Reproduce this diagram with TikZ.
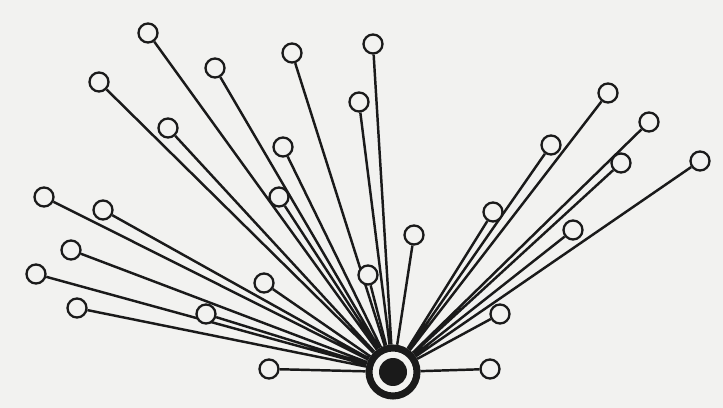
\documentclass[tikz,border=0pt]{standalone}
\definecolor{Paper}{HTML}{F2F2F0}
\definecolor{Ink}{HTML}{1A1A1A}
\usepackage{tikz}
\usetikzlibrary{backgrounds}

\begin{document}
\begin{tikzpicture}[x=0.02cm, y=-0.02cm,
      leaf/.style={circle, draw=Ink, fill=Paper, line width=1.3pt,
        minimum size=0.38cm, inner sep=0pt},
      hub/.style={circle, draw=Ink, fill=Paper, line width=4pt,
        minimum size=0.96cm, inner sep=0pt},
      core/.style={circle, fill=Ink, minimum size=0.56cm, inner sep=0pt},
      link/.style={draw=Ink, line width=1.4pt}]
      \useasboundingbox (0,0) rectangle (723,408);
      % centre
      \node[hub] (c) at (393,372) {};
      \node[core] (k) at (c) {};
      % upper left fan
      \node[leaf] (a1) at (148,33) {};
      \node[leaf] (a2) at (99,82) {};
      \node[leaf] (a3) at (215,68) {};
      \node[leaf] (a4) at (292,53) {};
      \node[leaf] (a5) at (373,44) {};
      \node[leaf] (a6) at (359,102) {};
      \node[leaf] (a7) at (168,128) {};
      \node[leaf] (a8) at (283,147) {};
      \node[leaf] (a9) at (279,197) {};
      % lower left fan
      \node[leaf] (b1) at (44,197) {};
      \node[leaf] (b2) at (103,210) {};
      \node[leaf] (b3) at (71,250) {};
      \node[leaf] (b4) at (36,274) {};
      \node[leaf] (b5) at (77,308) {};
      \node[leaf] (b6) at (206,314) {};
      \node[leaf] (b7) at (264,283) {};
      \node[leaf] (b8) at (368,275) {};
      \node[leaf] (b9) at (269,369) {};
      % right fan
      \node[leaf] (r1) at (608,93) {};
      \node[leaf] (r2) at (649,122) {};
      \node[leaf] (r3) at (621,163) {};
      \node[leaf] (r4) at (700,161) {};
      \node[leaf] (r5) at (551,145) {};
      \node[leaf] (r6) at (493,212) {};
      \node[leaf] (r7) at (573,230) {};
      \node[leaf] (r8) at (414,235) {};
      \node[leaf] (r9) at (500,314) {};
      \node[leaf] (r10) at (490,369) {};
      \begin{scope}[on background layer]
        \fill[Paper] (0,0) rectangle (723,408);
        \path[link] (c)--(a1) (c)--(a2) (c)--(a3) (c)--(a4) (c)--(a5)
          (c)--(a6) (c)--(a7) (c)--(a8) (c)--(a9);
        \path[link] (c)--(b1) (c)--(b2) (c)--(b3) (c)--(b4) (c)--(b5)
          (c)--(b6) (c)--(b7) (c)--(b8) (c)--(b9);
        \path[link] (c)--(r1) (c)--(r2) (c)--(r3) (c)--(r4) (c)--(r5)
          (c)--(r6) (c)--(r7) (c)--(r8) (c)--(r9) (c)--(r10);
      \end{scope}
    \end{tikzpicture}
\end{document}
